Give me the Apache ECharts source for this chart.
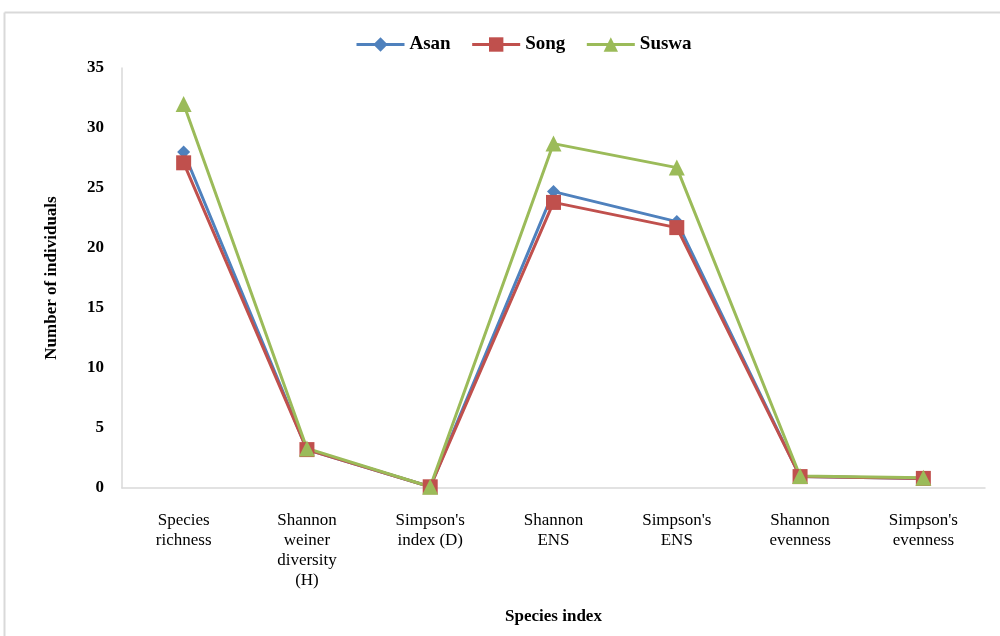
<!DOCTYPE html>
<html>
<head>
<meta charset="utf-8">
<script src="https://cdn.jsdelivr.net/npm/echarts@6/dist/echarts.min.js"></script>
<style>
  html, body { margin: 0; padding: 0; background: #fff; }
  #chart { width: 1000px; height: 636px; }
</style>
</head>
<body>
<div id="chart"></div>
<script>
// Diversity indices per site
const categories = [
  "Species\nrichness",
  "Shannon\nweiner\ndiversity\n(H)",
  "Simpson's\nindex (D)",
  "Shannon\nENS",
  "Simpson's\nENS",
  "Shannon\nevenness",
  "Simpson's\nevenness"
];
const asan  = [28.0, 3.2, 0.1, 24.7, 22.2, 0.95, 0.8];
const song  = [27.1, 3.2, 0.1, 23.8, 21.7, 0.95, 0.8];
const suswa = [32.0, 3.3, 0.1, 28.7, 26.7, 1.0, 0.85];

const serif = "'Liberation Serif', 'Times New Roman', serif";

const chart = echarts.init(document.getElementById('chart'), null, { renderer: 'canvas' });

function seriesOf(name, data, color, symbol, size) {
  return {
    name: name,
    type: 'line',
    data: data,
    symbol: symbol,
    symbolSize: size,
    lineStyle: { color: color, width: 3 },
    itemStyle: { color: color },
    animation: false
  };
}

chart.setOption({
  backgroundColor: '#ffffff',
  animation: false,
  graphic: [
    // outer frame (top and left edges)
    { type: 'line', shape: { x1: 4.5, y1: 12.5, x2: 1000, y2: 12.5 }, style: { stroke: '#d9d9d9', lineWidth: 2 } },
    { type: 'line', shape: { x1: 4.5, y1: 12.5, x2: 4.5, y2: 636 }, style: { stroke: '#d9d9d9', lineWidth: 2 } }
  ],
  legend: {
    top: 30,
    left: 350,
    itemWidth: 48,
    itemHeight: 18,
    itemGap: 20,
    lineStyle: { width: 3 },
    textStyle: { fontFamily: serif, fontWeight: 'bold', fontSize: 19, color: '#000' },
    data: ['Asan', 'Song', 'Suswa']
  },
  grid: { left: 122, right: 15, top: 68, bottom: 148, containLabel: false },
  xAxis: {
    type: 'category',
    data: categories,
    boundaryGap: true,
    name: 'Species index',
    nameLocation: 'middle',
    nameGap: 120,
    nameTextStyle: { fontFamily: serif, fontWeight: 'bold', fontSize: 17, color: '#000' },
    axisLine: { lineStyle: { color: '#d9d9d9', width: 1.5 } },
    axisTick: { show: false },
    axisLabel: {
      interval: 0,
      margin: 23,
      fontFamily: serif,
      fontSize: 17,
      lineHeight: 20,
      color: '#000'
    },
    splitLine: { show: false }
  },
  yAxis: {
    type: 'value',
    min: 0,
    max: 35,
    interval: 5,
    name: 'Number of individuals',
    nameLocation: 'middle',
    nameGap: 62,
    nameTextStyle: { fontFamily: serif, fontWeight: 'bold', fontSize: 17, color: '#000' },
    axisLine: { show: true, lineStyle: { color: '#d9d9d9', width: 1.5 } },
    axisTick: { show: false },
    axisLabel: { margin: 18, fontFamily: serif, fontWeight: 'bold', fontSize: 17, color: '#000' },
    splitLine: { show: false }
  },
  series: [
    seriesOf('Asan', asan, '#4F81BD', 'diamond', 13),
    seriesOf('Song', song, '#C0504D', 'rect', 15),
    seriesOf('Suswa', suswa, '#9BBB59', 'triangle', 16)
  ]
});
</script>
</body>
</html>
